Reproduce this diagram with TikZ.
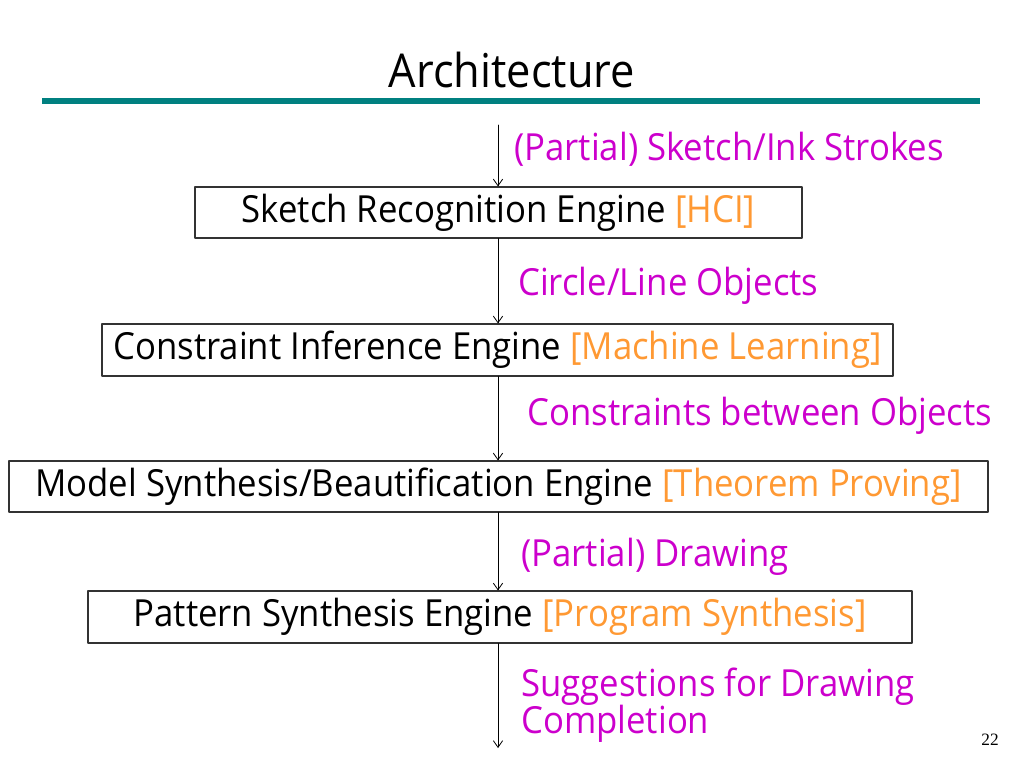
\documentclass[tikz,border=0pt]{standalone}
\usepackage{fontspec}
\newfontfamily\slidefont{Open Sans}[FakeStretch=0.93]
\newfontfamily\pagefont{Liberation Serif}
\usetikzlibrary{arrows.meta}
\definecolor{rulecol}{RGB}{0,128,128}
\definecolor{flowcol}{RGB}{204,0,204}
\definecolor{fieldcol}{RGB}{255,153,51}
\tikzset{
  engine/.style={draw=black!80,line width=0.8pt,fill=white,inner sep=0pt,
    font=\slidefont\fontsize{28}{32}\selectfont},
  flow/.style={anchor=west,text=flowcol,inner sep=0pt,align=left,
    font=\slidefont\fontsize{28}{28}\selectfont},
  feed/.style={->,>={Straight Barb[length=5pt,width=7pt]},line width=0.6pt}
}
\newcommand{\field}[1]{\textcolor{fieldcol}{#1}}

\begin{document}
\begin{tikzpicture}[line cap=round,line join=round,x=0.75pt,y=-0.75pt]
		\useasboundingbox (0,0) rectangle (1024,768);
		\node[font=\slidefont\fontsize{35}{40}\selectfont] (title) at (512,70) {Architecture};
		\draw [line width=4.5pt,color=rulecol,line cap=butt] (42,101) -- (980,101);
		% engines
		\node[engine,minimum width=607*0.75pt,minimum height=51*0.75pt] (sketch) at (498.5,212.5) {Sketch Recognition Engine \field{[HCI]}};
		\node[engine,minimum width=791*0.75pt,minimum height=52*0.75pt] (infer) at (497.5,350) {Constraint Inference Engine \field{[Machine Learning]}};
		\node[engine,minimum width=979*0.75pt,minimum height=51*0.75pt] (model) at (498.5,486.5) {Model Synthesis/Beautification Engine \field{[Theorem Proving]}};
		\node[engine,minimum width=824*0.75pt,minimum height=52*0.75pt] (pattern) at (500,617) {Pattern Synthesis Engine \field{[Program Synthesis]}};
		\coordinate (in) at (498,125);
		\coordinate (out) at (498,748);
		% connectors
		\draw [feed] (in) -- (in |- sketch.north);
		\draw [feed] (sketch.south -| in) -- (in |- infer.north);
		\draw [feed] (infer.south -| in) -- (in |- model.north);
		\draw [feed] (model.south -| in) -- (in |- pattern.north);
		\draw [feed] (pattern.south -| in) -- (out);
		% data between engines
		\node[flow] (strokes) at (514,149) {(Partial) Sketch/Ink Strokes};
		\node[flow] (objects) at (518,286) {Circle/Line Objects};
		\node[flow] (constraints) at (527,416) {Constraints between Objects};
		\node[flow] (drawing) at (521,557) {(Partial) Drawing};
		\node[flow] (suggest) at (521,705) {Suggestions for Drawing\\Completion};
		\node[font=\pagefont\fontsize{13}{15}\selectfont] (page) at (990,740) {22};
	\end{tikzpicture}
\end{document}
